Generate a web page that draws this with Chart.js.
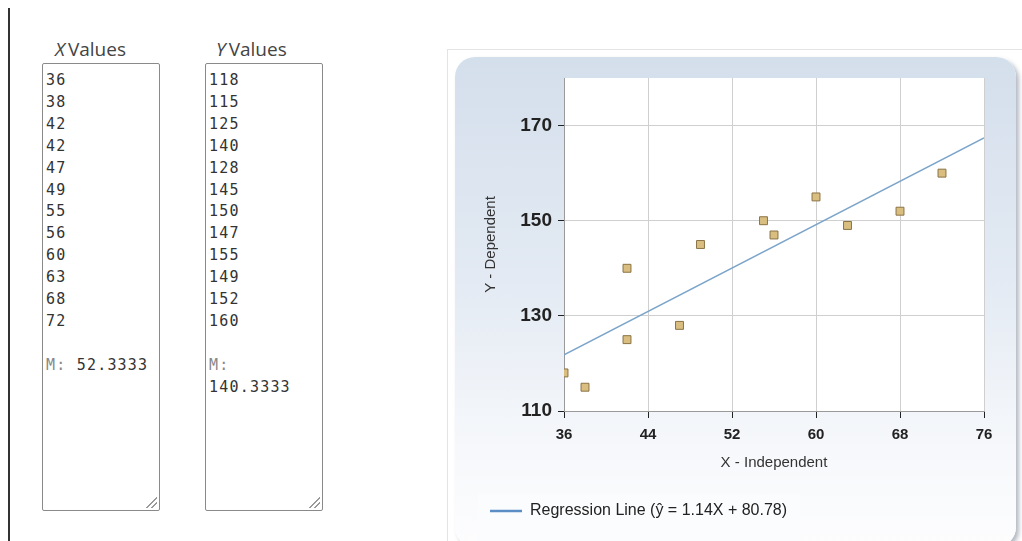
<!DOCTYPE html>
<html>
<head>
<meta charset="utf-8">
<script src="https://cdn.jsdelivr.net/npm/chart.js@4/dist/chart.umd.min.js"></script>
<style>
  body { margin:0; width:1022px; height:541px; background:#fff; position:relative; overflow:hidden; font-family:"Open Sans", sans-serif; }
  .vline { position:absolute; left:8px; top:8px; width:2px; height:540px; background:#333; }
  .lbl { position:absolute; top:36px; font-size:19px; color:#444; }
  .lbl i { margin-right:3px; }
  .box { position:absolute; top:63px; width:116px; height:446px; border:1px solid #8a8a8a; border-radius:2px; box-sizing:content-box;
         font-family:"DejaVu Sans Mono", monospace; font-size:15px; line-height:21.9px; letter-spacing:1.2px; color:#333; padding:0; }
  .box .in { position:absolute; left:3px; top:6px; white-space:pre; }
  .box .m { color:#888; }
  .grip { position:absolute; right:2px; bottom:2px; width:11px; height:11px;
          background:linear-gradient(135deg, transparent 48%, #999 48%, #999 56%, transparent 56%, transparent 72%, #999 72%, #999 80%, transparent 80%); }
  .frame { position:absolute; left:447px; top:49px; width:600px; height:600px; border:1px solid #e4e4e4; }
  .panel { position:absolute; left:455px; top:57px; width:561px; height:490px; border-radius:20px;
           background:linear-gradient(to bottom, #d4dfec 0%, #e3eaf3 45%, #f6f8fb 80%, #fdfdfe 100%);
           box-shadow:3px 3px 4px rgba(120,130,145,0.55); }
  .legbg { position:absolute; left:478px; top:494px; width:322px; height:47px; background:#fbfcfe; }
  #chart { position:absolute; left:448px; top:50px; }
</style>
</head>
<body>
<div class="vline"></div>
<div class="lbl" style="left:55px"><i>X</i>Values</div>
<div class="lbl" style="left:216px"><i>Y</i>Values</div>
<div class="box" style="left:42px"><div class="in" id="xbox"></div><div class="grip"></div></div>
<div class="box" style="left:205px"><div class="in" id="ybox"></div><div class="grip"></div></div>
<div class="frame"></div>
<div class="panel"></div>
<div class="legbg"></div>
<canvas id="chart" width="574" height="491"></canvas>
<script>
var xValues = [36, 38, 42, 42, 47, 49, 55, 56, 60, 63, 68, 72];
var yValues = [118, 115, 125, 140, 128, 145, 150, 147, 155, 149, 152, 160];
var xMean = '52.3333';
var yMean = '140.3333';
var xTicks = [36, 44, 52, 60, 68, 76];
var yTicks = [110, 130, 150, 170];
var regX = [36, 76];
var regY = [121.82, 167.42];
var regLabel = 'Regression Line (\u0177 = 1.14X + 80.78)';

document.getElementById('xbox').innerHTML = xValues.join('\n') + '\n\n<span class="m">M:</span> ' + xMean;
document.getElementById('ybox').innerHTML = yValues.join('\n') + '\n\n<span class="m">M:</span>\n' + yMean;

var points = xValues.map(function(x, i){ return {x:x, y:yValues[i]}; });
var line = regX.map(function(x, i){ return {x:x, y:regY[i]}; });

var plotBg = {
  id:'plotBg',
  beforeDraw:function(chart){
    var a = chart.chartArea, ctx = chart.ctx;
    ctx.save();
    ctx.fillStyle = '#fff';
    ctx.fillRect(a.left, a.top, a.right - a.left, a.bottom - a.top);
    ctx.restore();
  }
};

var chart = new Chart(document.getElementById('chart').getContext('2d'), {
  type:'scatter',
  data:{
    datasets:[
      { label:'Data', data:points, pointStyle:'rect', pointRadius:5.6, pointHoverRadius:5.6,
        backgroundColor:'#d9be80', borderColor:'#8a7346', borderWidth:1, order:1 },
      { type:'line', label:regLabel, data:line, borderColor:'#7ba4ca', backgroundColor:'#5b8ec4',
        borderWidth:1.5, pointRadius:0, fill:false, order:2 }
    ]
  },
  options:{
    responsive:false,
    animation:false,
    layout:{ padding:{ left:32, right:38, top:28, bottom:12 } },
    plugins:{
      tooltip:{ enabled:false },
      legend:{
        position:'bottom', align:'start',
        labels:{
          usePointStyle:true, pointStyle:'line', pointStyleWidth:32, padding:10,
          color:'#222', font:{ family:'"Liberation Sans", Arial, sans-serif', size:16 },
          filter:function(item){ return item.datasetIndex === 1; },
          generateLabels:function(c){
            var items = Chart.defaults.plugins.legend.labels.generateLabels(c);
            items.forEach(function(it){ it.strokeStyle = '#5b8ec4'; it.lineWidth = 2.5; });
            return items;
          }
        }
      }
    },
    scales:{
      x:{
        type:'linear', min:36, max:76,
        afterFit:function(s){ s.height = 82; },
        afterBuildTicks:function(s){ s.ticks = xTicks.map(function(v){ return {value:v}; }); },
        border:{ display:true, color:'#9a9a9a', width:1 },
        grid:{ color:'#cfcfcf', tickColor:'#222', tickLength:7, lineWidth:1 },
        ticks:{ color:'#222', padding:8, font:{ family:'"Liberation Sans", Arial, sans-serif', size:15, weight:'bold' } },
        title:{ display:true, text:'X - Independent', color:'#333', padding:{ top:4, bottom:21 },
                font:{ family:'"Liberation Sans", Arial, sans-serif', size:15 } }
      },
      y:{
        type:'linear', min:110, max:180,
        afterFit:function(s){ s.width = 84; },
        afterBuildTicks:function(s){ s.ticks = yTicks.map(function(v){ return {value:v}; }); },
        border:{ display:true, color:'#9a9a9a', width:1 },
        grid:{ color:'#cfcfcf', tickColor:'#222', tickLength:6, lineWidth:1 },
        ticks:{ color:'#222', padding:6, font:{ family:'"Liberation Sans", Arial, sans-serif', size:19, weight:'bold' } },
        title:{ display:true, text:'Y - Dependent', color:'#333', padding:{ top:2, bottom:4 },
                font:{ family:'"Liberation Sans", Arial, sans-serif', size:15 } }
      }
    }
  },
  plugins:[plotBg]
});
</script>
</body>
</html>
